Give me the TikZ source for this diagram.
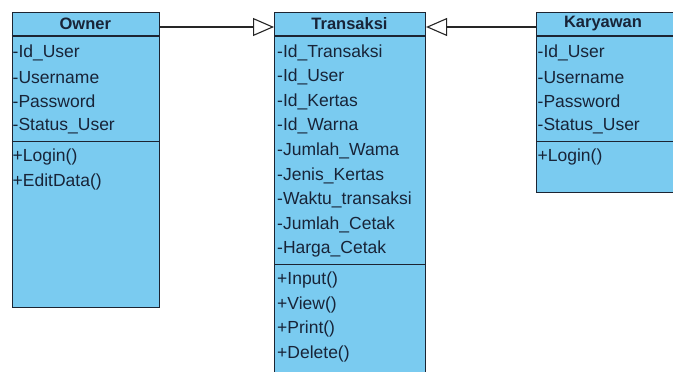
\documentclass[tikz,border=0pt]{standalone}
\usepackage{fontspec}
\setmainfont{Liberation Sans}
\usetikzlibrary{arrows.meta,calc}
\definecolor{clsfill}{RGB}{122,203,240}
\definecolor{clsline}{RGB}{28,36,50}
\definecolor{clstext}{RGB}{24,36,56}
\tikzset{
  cls/.style={draw=clsline, fill=clsfill, line width=1.1pt, inner sep=0pt, anchor=north west},
  sep/.style={draw=clsline, line width=1.1pt},
  ttl/.style={font=\fontsize{16.5}{18}\selectfont\bfseries, text=clstext, inner sep=0pt},
  attr/.style={font=\fontsize{17.5}{20}\selectfont, text=clstext, inner sep=0pt, anchor=west},
  gen/.style={draw=black!85, line width=1.1pt, -{Triangle[open,length=21pt,width=18pt,line width=1.1pt]}}
}
\begin{document}
\begin{tikzpicture}[x=1pt,y=-1pt]
\useasboundingbox[fill=white] (0,0) rectangle (673,372);
% Owner
\node[cls, minimum width=147.5pt, minimum height=295pt] (owner) at (11.5,12) {};
\draw[sep] ([yshift=-24pt]owner.north west) -- ([yshift=-24pt]owner.north east);
\draw[sep] ([yshift=-129.5pt]owner.north west) -- ([yshift=-129.5pt]owner.north east);
\node[ttl] (ownert) at (85.25,24) {Owner};
\node[attr] (o1) at (12.5,52.5) {-Id\_User};
\node[attr] (o2) at (12.5,77.1) {-Username};
\node[attr] (o3) at (12.5,101.7) {-Password};
\node[attr] (o4) at (12.5,126.3) {-Status\_User};
\node[attr] (o5) at (12.5,157) {+Login()};
\node[attr] (o6) at (12.5,181.6) {+EditData()};
% Transaksi
\node[cls, minimum width=151pt, minimum height=361pt] (trans) at (274,12) {};
\draw[sep] ([yshift=-24pt]trans.north west) -- ([yshift=-24pt]trans.north east);
\draw[sep] ([yshift=-252.5pt]trans.north west) -- ([yshift=-252.5pt]trans.north east);
\node[ttl] (transt) at (349.5,24) {Transaksi};
\node[attr] (t1) at (277,52.5) {-Id\_Transaksi};
\node[attr] (t2) at (277,77.1) {-Id\_User};
\node[attr] (t3) at (277,101.7) {-Id\_Kertas};
\node[attr] (t4) at (277,126.3) {-Id\_Warna};
\node[attr] (t5) at (277,150.9) {-Jumlah\_Wama};
\node[attr] (t6) at (277,175.5) {-Jenis\_Kertas};
\node[attr] (t7) at (277,200.1) {-Waktu\_transaksi};
\node[attr] (t8) at (277,224.7) {-Jumlah\_Cetak};
\node[attr] (t9) at (277,249.3) {-Harga\_Cetak};
\node[attr] (t10) at (277,280) {+Input()};
\node[attr] (t11) at (277,304.6) {+View()};
\node[attr] (t12) at (277,329.2) {+Print()};
\node[attr] (t13) at (277,353.8) {+Delete()};
% Karyawan
\node[cls, minimum width=138pt, minimum height=180pt] (kary) at (536,12) {};
\draw[sep] ([yshift=-24pt]kary.north west) -- ([yshift=-24pt]kary.north east);
\draw[sep] ([yshift=-129.5pt]kary.north west) -- ([yshift=-129.5pt]kary.north east);
\node[ttl] (karyt) at (603,24) {Karyawan};
\node[attr] (k1) at (537.5,52.5) {-Id\_User};
\node[attr] (k2) at (537.5,77.1) {-Username};
\node[attr] (k3) at (537.5,101.7) {-Password};
\node[attr] (k4) at (537.5,126.3) {-Status\_User};
\node[attr] (k5) at (537.5,157) {+Login()};
% generalisations
\draw[gen] ([yshift=-15pt]owner.north east) -- ([yshift=-15pt]trans.north west);
\draw[gen] ([yshift=-15pt]kary.north west) -- ([yshift=-15pt]trans.north east);
\end{tikzpicture}
\end{document}
